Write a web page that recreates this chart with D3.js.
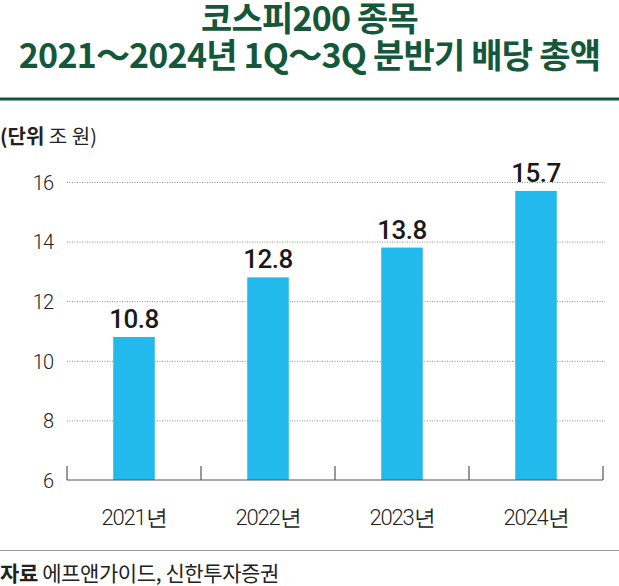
<!DOCTYPE html>
<html>
<head>
<meta charset="utf-8">
<script src="https://cdn.jsdelivr.net/npm/d3@7"></script>
<style>
  body { margin: 0; background: #fff; }
  svg { display: block; }
</style>
</head>
<body>
<div id="chart"></div>
<script>
const years = ["2021년", "2022년", "2023년", "2024년"];
const totals = [10.8, 12.8, 13.8, 15.7];
const yTicks = [6, 8, 10, 12, 14, 16];
const titleLines = ["코스피200 종목", "2021～2024년 1Q～3Q 분반기 배당 총액"];
const unitBold = "(단위";
const unitText = " 조 원)";
const sourceBold = "자료";
const sourceText = " 에프앤가이드, 신한투자증권";

const width = 619, height = 586;
const green = "#15573a";
const barColor = "#22b9ed";
const cjk = "'Noto Sans CJK KR', 'Noto Sans', sans-serif";
const num = "Roboto, 'Noto Sans', sans-serif";

const svg = d3.select("#chart").append("svg")
    .attr("width", width).attr("height", height);

// title
svg.selectAll(".title")
    .data(titleLines)
    .enter()
    .append("text")
    .attr("class", "title")
    .attr("x", width / 2)
    .attr("y", (d, i) => i === 0 ? 31 : 68)
    .attr("text-anchor", "middle")
    .attr("fill", green)
    .attr("font-family", cjk)
    .attr("font-weight", 700)
    .attr("font-size", 34)
    .attr("letter-spacing", -0.8)
    .text(d => d);

svg.append("line")
    .attr("x1", 0).attr("x2", width)
    .attr("y1", 99).attr("y2", 99)
    .attr("stroke", green).attr("stroke-width", 3);

const unit = svg.append("text")
    .attr("x", 0).attr("y", 144)
    .attr("font-family", cjk)
    .attr("font-size", 20)
    .attr("fill", "#222");
unit.append("tspan").attr("font-weight", 700).text(unitBold);
unit.append("tspan").text(unitText);

const x = d3.scaleBand().domain(years).range([67, 603]).padding(0);
const y = d3.scaleLinear().domain([6, 16]).range([480, 182]);
const barW = x.bandwidth() * 0.31;

// gridlines
svg.append("g")
    .selectAll("line")
    .data(yTicks.filter(d => d > 6))
    .enter()
    .append("line")
    .attr("x1", 67).attr("x2", 605)
    .attr("y1", d => y(d) + 0.5).attr("y2", d => y(d) + 0.5)
    .attr("stroke", "#8a8a8a")
    .attr("stroke-width", 1)
    .attr("stroke-dasharray", "1,1.5");

// y axis labels
const yAxis = d3.axisLeft(y).tickValues(yTicks).tickSize(0).tickPadding(14);
const yG = svg.append("g").attr("transform", "translate(67,0)").call(yAxis);
yG.select(".domain").remove();
yG.selectAll("text")
    .attr("font-family", num)
    .attr("font-size", 20)
    .attr("font-weight", 300)
    .attr("letter-spacing", -1)
    .attr("fill", "#222")
    .attr("dy", "0.36em");

// bars
svg.selectAll(".bar")
    .data(totals)
    .enter()
    .append("rect")
    .attr("class", "bar")
    .attr("x", (d, i) => x(years[i]) + x.bandwidth() / 2 - barW / 2)
    .attr("width", barW)
    .attr("y", d => y(d))
    .attr("height", d => y(6) - y(d))
    .attr("fill", barColor);

// value labels
svg.selectAll(".val")
    .data(totals)
    .enter()
    .append("text")
    .attr("class", "val")
    .attr("x", (d, i) => x(years[i]) + x.bandwidth() / 2)
    .attr("y", d => y(d) - 9)
    .attr("text-anchor", "middle")
    .attr("font-family", num)
    .attr("font-weight", 500)
    .attr("font-size", 26)
    .attr("letter-spacing", -0.5)
    .attr("fill", "#1a1a1a")
    .text(d => d.toFixed(1));

// x axis: baseline with upward ticks at band edges
const xAxis = d3.axisBottom(x).tickSize(0).tickPadding(0);
const xG = svg.append("g").attr("transform", `translate(0,${y(6)})`).call(xAxis);
xG.select(".domain").remove();
xG.selectAll("text")
    .attr("y", 45)
    .attr("dy", 0)
    .attr("font-family", num)
    .attr("font-size", 22)
    .attr("font-weight", 300)
    .attr("letter-spacing", -1.2)
    .attr("fill", "#222");

xG.append("line")
    .attr("x1", 67).attr("x2", 603)
    .attr("y1", 0).attr("y2", 0)
    .attr("stroke", "#555").attr("stroke-width", 1.2);

const edges = years.map(d => x(d)).concat([x(years[years.length - 1]) + x.bandwidth()]);
xG.selectAll(".edge")
    .data(edges)
    .enter()
    .append("line")
    .attr("class", "edge")
    .attr("x1", d => d).attr("x2", d => d)
    .attr("y1", 0).attr("y2", -14)
    .attr("stroke", "#555").attr("stroke-width", 1.2);

// source
svg.append("line")
    .attr("x1", 0).attr("x2", width)
    .attr("y1", 550.5).attr("y2", 550.5)
    .attr("stroke", "#9a9a9a").attr("stroke-width", 1);

const src = svg.append("text")
    .attr("x", 0).attr("y", 581)
    .attr("font-family", cjk)
    .attr("font-size", 21)
    .attr("letter-spacing", -0.4)
    .attr("fill", "#222");
src.append("tspan").attr("font-weight", 700).text(sourceBold);
src.append("tspan").text(sourceText);
</script>
</body>
</html>
